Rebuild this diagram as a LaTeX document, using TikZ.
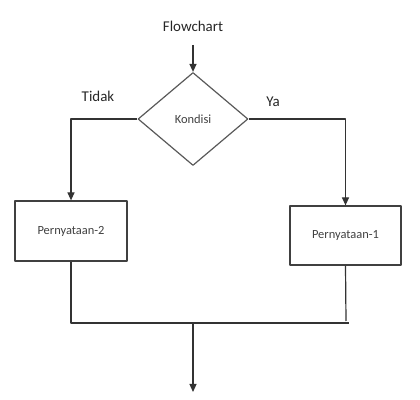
\documentclass[tikz,border=0pt]{standalone}
\usepackage{fontspec}
\setmainfont{Carlito}
\usetikzlibrary{shapes.geometric,arrows.meta}
\begin{document}
\begin{tikzpicture}[>={Triangle[length=8bp,width=7bp]},line join=bevel,
  line width=1.2bp,
  box/.style={draw=black!75,rectangle,inner sep=0pt,font=\fontsize{12.5}{14}\selectfont,text=black!75},
  cond/.style={draw=black!65,diamond,inner sep=0pt,minimum width=110bp,minimum height=93bp,font=\fontsize{12.5}{14}\selectfont,text=black!75},
  label/.style={draw=none,font=\fontsize{15}{17}\selectfont,text=black!85},
  link/.style={black!80}]
\useasboundingbox (0bp,0bp) rectangle (420bp,400bp);
%%
\node (node_title) at (193bp,374bp) [label] {Flowchart};
  \node (node_cond) at (193bp,281bp) [cond] {Kondisi};
  \node (node_no) at (98bp,304bp) [label] {Tidak};
  \node (node_yes) at (273bp,298bp) [label] {Ya};
  \node (node_2) at (71bp,169bp) [box,minimum width=112bp,minimum height=60bp] {Pernyataan-2};
  \node (node_1) at (345.5bp,164.5bp) [box,minimum width=111bp,minimum height=59bp] {Pernyataan-1};
  \coordinate (start) at (193bp,355bp);
  \coordinate (join_l) at (71bp,77bp);
  \coordinate (join_r) at (349bp,77bp);
  \coordinate (join_m) at (193bp,77bp);
  \coordinate (end_1) at (346bp,79bp);
  \coordinate (stop) at (193bp,8bp);
  \draw [link,->] (start) -- (node_cond.north);
  \draw [link,->] (node_cond.west) -| (node_2.north);
  \draw [link,->] (node_cond.east) -| (node_1.north);
  \draw [link] (node_2.south) -- (join_l) -- (join_r);
  \draw [link] (node_1.south) -- (end_1);
  \draw [link,->] (join_m) -- (stop);
%
\end{tikzpicture}
\end{document}
